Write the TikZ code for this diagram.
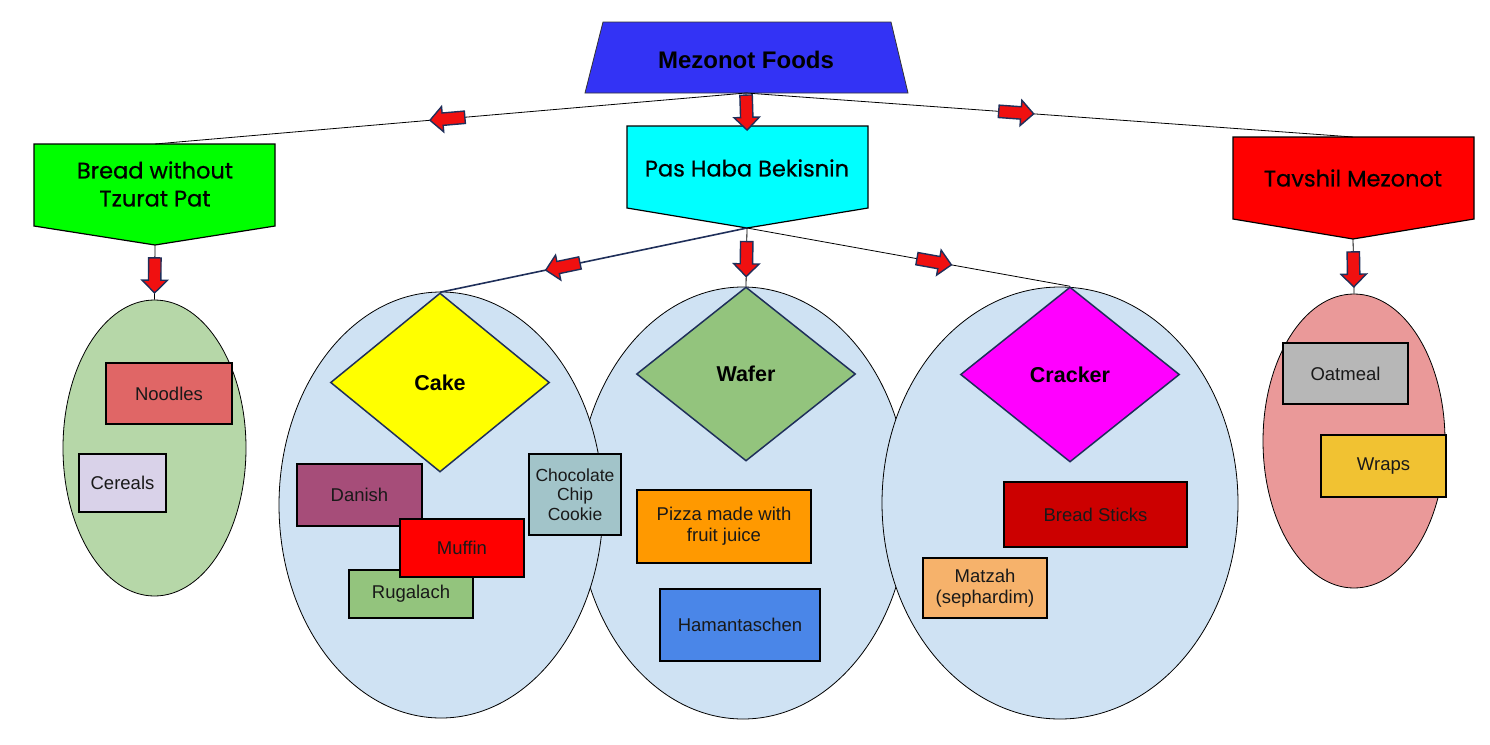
\documentclass[tikz,border=0pt]{standalone}
\usepackage{fontspec}
\setmainfont{Liberation Sans}
\newfontfamily\roundfont[FakeBold=0.6]{Poppins}
\usetikzlibrary{shapes.geometric,shapes.arrows}
\definecolor{mezblue}{HTML}{3333F5}
\definecolor{breadgreen}{HTML}{00FF00}
\definecolor{pascyan}{HTML}{00FFFF}
\definecolor{tavred}{HTML}{FF0000}
\definecolor{ellblue}{HTML}{CFE2F3}
\definecolor{ellgreen}{HTML}{B6D7A8}
\definecolor{ellpink}{HTML}{EA9999}
\definecolor{navy}{HTML}{1F2F5A}
\definecolor{arrred}{HTML}{F01010}
\definecolor{cyellow}{HTML}{FFFF00}
\definecolor{cgreen}{HTML}{93C47D}
\definecolor{cmagenta}{HTML}{FF00FF}
\definecolor{cnoodle}{HTML}{E06666}
\definecolor{ccereal}{HTML}{D9D2E9}
\definecolor{coat}{HTML}{B7B7B7}
\definecolor{cwrap}{HTML}{F1C232}
\definecolor{cdanish}{HTML}{A64D79}
\definecolor{cmuffin}{HTML}{FF0000}
\definecolor{ccookie}{HTML}{A2C4C9}
\definecolor{cpizza}{HTML}{FF9900}
\definecolor{cham}{HTML}{4A86E8}
\definecolor{cstick}{HTML}{CC0000}
\definecolor{cmatzah}{HTML}{F6B26B}
\begin{document}
\begin{tikzpicture}[x=1pt,y=-1pt,
  box/.style={rectangle, draw=black, line width=1.5pt, inner sep=2pt, align=center,
    font=\fontsize{18.5}{21}\selectfont, text=black!90},
  bigell/.style={ellipse, draw=black, line width=0.8pt, inner sep=0pt},
  dia/.style={diamond, draw=navy, line width=1.5pt, inner sep=0pt,
    font=\bfseries\fontsize{21.5}{24}\selectfont},
  pent/.style={draw=black, line width=1.2pt},
  penttext/.style={align=center, font=\roundfont\fontsize{22.5}{28}\selectfont},
  conn/.style={draw=black, line width=0.8pt},
  barrow/.style={single arrow, draw=navy, line width=1.4pt, fill=arrred,
    minimum height=35pt, minimum width=0pt, single arrow head extend=6.5pt,
    inner sep=0pt, inner ysep=5.5pt, sloped, allow upside down}
]
\useasboundingbox (0,0) rectangle (1490,744);

% top trapezoid
\path[draw=black!80, line width=0.8pt, fill=mezblue]
  (603,22) -- (891,22) -- (908,93) -- (585,93) -- cycle;
\node[font=\bfseries\fontsize{24}{28}\selectfont] (mez) at (746,60) {Mezonot Foods};
\coordinate (mezb) at (746,93);

% pentagons
\path[pent, fill=breadgreen] (34,144) -- (275,144) -- (275,226) -- (155,245) -- (34,226) -- cycle;
\node[penttext] (bread) at (155,184) {Bread without\\Tzurat Pat};
\coordinate (breadt) at (155,144);
\coordinate (breadb) at (155,245);

\path[pent, fill=pascyan] (627,126) -- (868,126) -- (868,208) -- (747,228) -- (627,208) -- cycle;
\node[penttext] (pas) at (747,168) {Pas Haba Bekisnin};
\coordinate (past) at (747,126);
\coordinate (pasb) at (747,228);

\path[pent, fill=tavred] (1233,137) -- (1474,137) -- (1474,219) -- (1353,239) -- (1233,219) -- cycle;
\node[penttext] (tav) at (1353,178) {Tavshil Mezonot};
\coordinate (tavt) at (1353,137);
\coordinate (tavb) at (1353,239);

% ellipses
\node[bigell, fill=ellgreen, minimum width=183pt, minimum height=296pt] (greenell) at (154.5,448) {};
\node[bigell, fill=ellpink, minimum width=182pt, minimum height=294pt] (pinkell) at (1354,441) {};
\node[bigell, fill=ellblue, minimum width=332pt, minimum height=432pt] (waferell) at (743,503) {};
\node[bigell, fill=ellblue, minimum width=324pt, minimum height=426pt] (cakeell) at (441,505) {};
\node[bigell, fill=ellblue, minimum width=356pt, minimum height=432pt] (crackell) at (1060,503) {};

% diamonds
\node[dia, fill=cyellow, minimum width=219pt, minimum height=179pt] (cake) at (440,382.5) {Cake};
\node[dia, fill=cgreen, minimum width=219pt, minimum height=174pt] (wafer) at (746,374) {Wafer};
\node[dia, fill=cmagenta, minimum width=219pt, minimum height=175pt] (cracker) at (1070,374.5) {Cracker};

% boxes
\node[box, fill=cnoodle, minimum width=126pt, minimum height=61pt] (noodles) at (169,393.5) {Noodles};
\node[box, fill=ccereal, minimum width=87pt, minimum height=58pt] (cereals) at (122.5,483) {Cereals};
\node[box, fill=coat, minimum width=125pt, minimum height=61pt] (oatmeal) at (1345.5,373.5) {Oatmeal};
\node[box, fill=cwrap, minimum width=125pt, minimum height=62pt] (wraps) at (1383.5,466) {Wraps};
\node[box, fill=cdanish, minimum width=125pt, minimum height=62pt] (danish) at (359.5,495) {Danish};
\node[box, fill=cgreen, minimum width=124pt, minimum height=48pt] (rugalach) at (411,594) {Rugalach};
\node[box, fill=cmuffin, minimum width=124pt, minimum height=58pt] (muffin) at (462,548) {Muffin};
\node[box, fill=ccookie, minimum width=92pt, minimum height=81pt, font=\fontsize{17.5}{19.5}\selectfont] (cookie) at (575,494.5) {Chocolate\\Chip\\Cookie};
\node[box, fill=cpizza, minimum width=174pt, minimum height=73pt] (pizza) at (724,526.5) {Pizza made with\\fruit juice};
\node[box, fill=cham, minimum width=160pt, minimum height=72pt] (ham) at (740,625) {Hamantaschen};
\node[box, fill=cstick, minimum width=183pt, minimum height=65pt] (sticks) at (1095.5,514.5) {Bread Sticks};
\node[box, fill=cmatzah, minimum width=124pt, minimum height=60pt] (matzah) at (985,588) {Matzah\\(sephardim)};

% connectors
\draw[conn] (mezb) -- node[barrow, pos=0.5] {} (breadt);
\draw[conn] (mezb) -- node[barrow, pos=0.5] {} (past);
\draw[conn] (mezb) -- node[barrow, pos=0.44] {} (tavt);
\draw[conn] (breadb) -- node[barrow, pos=0.5] {} (greenell.north);
\draw[conn] (tavb) -- node[barrow, pos=0.5] {} (pinkell.north);
\draw[conn, draw=navy, line width=1.6pt] (pasb) -- node[barrow, pos=0.59] {} (cake.north);
\draw[conn] (pasb) -- node[barrow, pos=0.48] {} (wafer.north);
\draw[conn] (pasb) -- node[barrow, pos=0.57] {} (cracker.north);
\end{tikzpicture}
\end{document}
